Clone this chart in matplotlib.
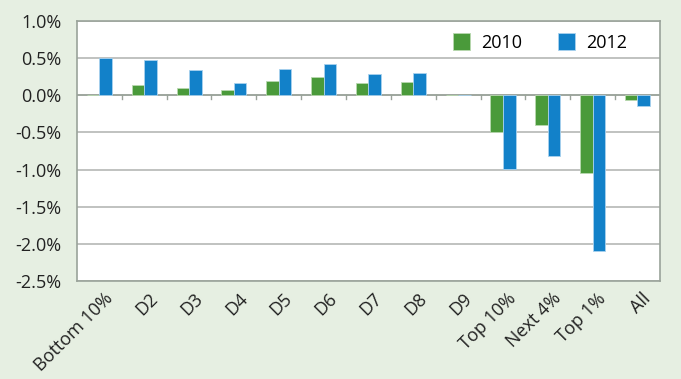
import matplotlib
matplotlib.use("Agg")
import matplotlib.pyplot as plt
import numpy as np

# Change in income share by group (percentage points)
groups = ['Bottom 10%', 'D2', 'D3', 'D4', 'D5', 'D6', 'D7', 'D8', 'D9',
          'Top 10%', 'Next 4%', 'Top 1%', 'All']
change_2010 = [0.01, 0.14, 0.10, 0.065, 0.19, 0.245, 0.16, 0.18, 0.01,
               -0.49, -0.40, -1.04, -0.065]
change_2012 = [0.50, 0.48, 0.34, 0.17, 0.35, 0.42, 0.28, 0.30, 0.01,
               -0.99, -0.815, -2.10, -0.15]
yticks = [1.0, 0.5, 0.0, -0.5, -1.0, -1.5, -2.0, -2.5]

plt.rcParams['font.family'] = ['Open Sans', 'DejaVu Sans']

bg = '#e6efe2'
green = '#4a9a3a'
blue = '#1281c9'

fig = plt.figure(figsize=(6.81, 3.79), dpi=100, facecolor=bg)
ax = fig.add_axes([0.113, 0.2586, 0.856, 0.686])
ax.set_facecolor('white')

x = np.arange(len(groups))
w = 0.28
ax.bar(x - w / 2, change_2010, w, color=green, edgecolor='#b9d9b0', linewidth=0.6, label='2010', zorder=3)
ax.bar(x + w / 2, change_2012, w, color=blue, edgecolor='#a9d2ee', linewidth=0.6, label='2012', zorder=3)

ax.set_xlim(-0.5, len(groups) - 0.5)
ax.set_ylim(-2.5, 1.0)
ax.set_yticks(yticks)
ax.set_yticklabels(['%.1f%%' % v for v in yticks], fontsize=13, color='#222222')
ax.yaxis.grid(True, color='#b5b8b5', linewidth=1.2, zorder=0)
ax.tick_params(axis='y', length=0, pad=11)

ax.set_xticks(x + 0.1)
ax.set_xticklabels(groups, rotation=45, ha='right', rotation_mode='anchor', fontsize=13, color='#222222')
ax.tick_params(axis='x', length=0, pad=6)

# zero line with category separator ticks
ax.axhline(0, color='#9aa39a', linewidth=1.2, zorder=2)
for b in x[1:] - 0.5:
    ax.plot([b, b], [0, -0.05], color='#9aa39a', linewidth=1.0, zorder=2)

for s in ['left', 'bottom', 'right', 'top']:
    ax.spines[s].set_color('#9aa39a')
    ax.spines[s].set_linewidth(1.2)

leg = ax.legend(loc='upper right', ncol=2, frameon=False, fontsize=13,
                handlelength=0.95, handleheight=1.0, handletextpad=0.6,
                columnspacing=2.0, bbox_to_anchor=(0.972, 1.015))

fig.savefig('out.png', dpi=100, facecolor=bg)
